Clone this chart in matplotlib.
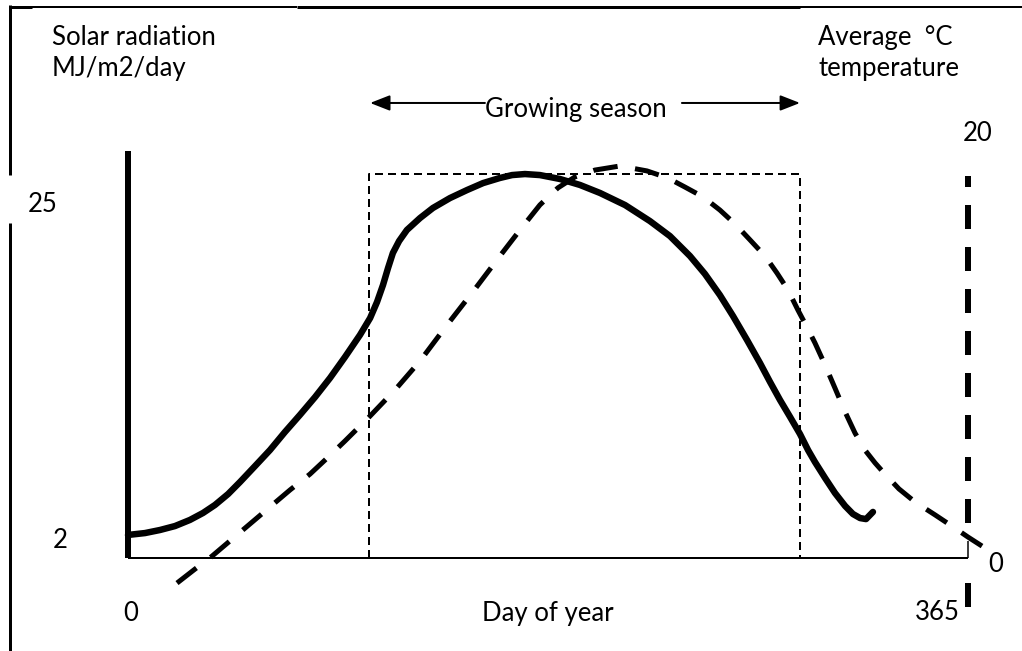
import matplotlib
matplotlib.use("Agg")
import matplotlib.pyplot as plt
from matplotlib.lines import Line2D
import numpy as np

plt.rcParams['lines.scale_dashes'] = False
plt.rcParams['font.family'] = ['Lato', 'DejaVu Sans']

# ---------------- data ----------------
# solar radiation (MJ/m2/day) by day of year (solid curve)
solar_day = [0, 7.39, 13.9, 20.4, 26.9, 32.6, 37.8, 43.5, 48.7, 55.2, 61.7, 68.2, 74.7,
             81.3, 87.8, 94.3, 100.8, 105.2, 108.2, 110.8, 113.0, 115.1, 117.8, 121.2,
             126.9, 132.5, 139.9, 147.3, 154.3, 161.6, 166.9, 172.5, 179.0, 187.7,
             196.4, 205.1, 216.0, 226.8, 235.5, 244.2, 250.7, 257.2, 262.9, 269.0,
             274.6, 279.0, 283.3, 287.7, 292.0, 295.5, 298.5, 302.9, 307.2, 311.6,
             315.0, 318.1, 320.7, 323.7]
solar_val = [2.21, 2.34, 2.55, 2.82, 3.24, 3.72, 4.27, 5.02, 5.85, 6.94, 8.04, 9.28, 10.45,
             11.68, 12.99, 14.43, 15.94, 17.10, 18.20, 19.37, 20.54, 21.57, 22.39, 23.15,
             23.97, 24.66, 25.34, 25.89, 26.37, 26.72, 26.92, 26.99, 26.92, 26.65,
             26.24, 25.69, 24.86, 23.76, 22.73, 21.36, 20.13, 18.68, 17.24, 15.59,
             14.02, 12.71, 11.48, 10.31, 9.14, 8.04, 7.22, 6.12, 5.09, 4.20,
             3.65, 3.37, 3.30, 3.79]

# average temperature (deg C) by day of year (dashed curve)
temp_day = [21.3, 29.1, 35.6, 44.3, 53.0, 61.7, 70.4, 79.1, 85.6, 94.3, 105.2, 116.0,
            126.9, 138.6, 150.8, 161.6, 170.3, 179.0, 186.8, 194.2, 202.9, 213.8,
            225.5, 234.6, 242.0, 249.9, 257.2, 263.8, 270.3, 276.8, 282.0, 286.8,
            291.1, 295.0, 298.5, 302.9, 307.2, 311.6, 315.9, 320.2, 324.6, 328.9,
            335.0, 342.0, 350.7, 358.0, 365.0, 371.1]
temp_val = [-0.98, -0.33, 0.19, 0.98, 1.77, 2.56, 3.35, 4.09, 4.74, 5.63, 6.79, 8.00,
            9.35, 11.02, 12.70, 14.23, 15.44, 16.61, 17.40, 17.91, 18.23, 18.42,
            18.19, 17.86, 17.44, 16.98, 16.37, 15.72, 14.98, 14.23, 13.44, 12.65,
            11.72, 10.93, 10.19, 9.16, 8.09, 6.98, 6.00, 5.21, 4.61, 4.09,
            3.40, 2.79, 2.19, 1.67, 1.16, 0.74]

# growing season (day range) and box top (solar units)
season_start, season_end = 104.7, 292.0
box_top = 26.99
baseline = 0.63
solar_axis_top = 28.6
temp_axis_top, temp_axis_bottom = 17.95, -2.09

x_tick_labels = ['0', '365']
solar_tick_labels = ['2', '25']
temp_tick_labels = ['20', '0']

# ---------------- figure ----------------
W, H = 1022, 651
fig = plt.figure(figsize=(W / 100, H / 100), dpi=100)
ax = fig.add_axes([0, 0, 1, 1])
ax.set_xlim(-55.62, 388.47)
ax.set_ylim(-5.758, 38.94)
ax.axis('off')
ax2 = ax.twinx()
ax2.set_ylim(-4.14, 26.14)
ax2.axis('off')
ax2.set_position([0, 0, 1, 1])

PX = 0.72  # points per pixel

# frame (decoration)
def fline(xs, ys, lw):
    fig.add_artist(Line2D([x / W for x in xs], [1 - y / H for y in ys],
                          transform=fig.transFigure, color='black', lw=lw * PX,
                          solid_capstyle='butt'))
fline([10, 10], [5, 175], 3)
fline([10, 10], [223, 651], 3)
fline([9, 32], [6.5, 6.5], 3)
fline([32, 297], [6.5, 6.5], 2)
fline([297, 800], [6.5, 6.5], 3)
fline([800, 1022], [6.5, 6.5], 2)

# growing season box
ax.plot([season_start, season_start, season_end, season_end],
        [baseline, box_top, box_top, baseline], color='black', lw=2 * PX,
        linestyle=(0, (8 * PX, 5 * PX)), dash_capstyle='butt')

# axes lines
ax.plot([0, 365], [baseline, baseline], color='black', lw=2 * PX, solid_capstyle='butt')
ax.plot([365, 365], [baseline, 1.79], color='black', lw=1.5 * PX, solid_capstyle='butt')
ax.plot([0, 0], [baseline, solar_axis_top], color='black', lw=6 * PX, solid_capstyle='butt')

# right temperature axis (dashed)
ax2.plot([365, 365], [temp_axis_top, 1.81], color='black', lw=6 * PX,
         linestyle=(13 * PX, (24 * PX, 18 * PX)), dash_capstyle='butt')
ax2.plot([365, 365], [-0.98, temp_axis_bottom], color='black', lw=6 * PX,
         solid_capstyle='butt')

# curves
ax.plot(solar_day, solar_val, color='black', lw=6.5 * PX, solid_capstyle='round',
        solid_joinstyle='round')

# fit the dash pattern so the dashed curve starts and ends with a dash
pts = ax2.transData.transform(np.column_stack([temp_day, temp_val]))
L = np.hypot(*np.diff(pts, axis=0).T).sum()
on, off = 25.0, 18.0
n = max(1, round((L - on) / (on + off)))
s = L / (n * (on + off) + on)
ax2.plot(temp_day, temp_val, color='black', lw=5 * PX,
         linestyle=(0, (on * s * PX, off * s * PX)), dash_capstyle='butt', clip_on=False)

# growing season arrows
arrow_y = 31.87
akw = dict(arrowstyle='-|>,head_length=0.6,head_width=0.235', color='black',
           lw=2 * PX, shrinkA=0, shrinkB=0, mutation_scale=20)
ax.annotate('', xy=(season_start + 0.5, arrow_y), xytext=(155.1, arrow_y), arrowprops=akw)
ax.annotate('', xy=(season_end, arrow_y), xytext=(240.7, arrow_y), arrowprops=akw)

FS = 18.5
def ftext(x, y, s, ha='left', va='baseline'):
    fig.text(x / W, 1 - y / H, s, ha=ha, va=va, fontsize=FS, color='black')

ftext(485, 117, 'Growing season')
ftext(52, 45, 'Solar radiation')
ftext(52, 76, 'MJ/m2/day')
ftext(818, 45, 'Average  \u00b0C')
ftext(818, 76, 'temperature')
ftext(548, 621, 'Day of year', ha='center')

# tick labels
ftext(131, 621, x_tick_labels[0], ha='center')
ftext(960, 620, x_tick_labels[1], ha='right')
ftext(60, 548, solar_tick_labels[0], ha='center')
ftext(28, 212, solar_tick_labels[1])
ftext(963, 141, temp_tick_labels[0])
ftext(988, 572, temp_tick_labels[1])

fig.savefig('out.png', dpi=100, facecolor='white')
